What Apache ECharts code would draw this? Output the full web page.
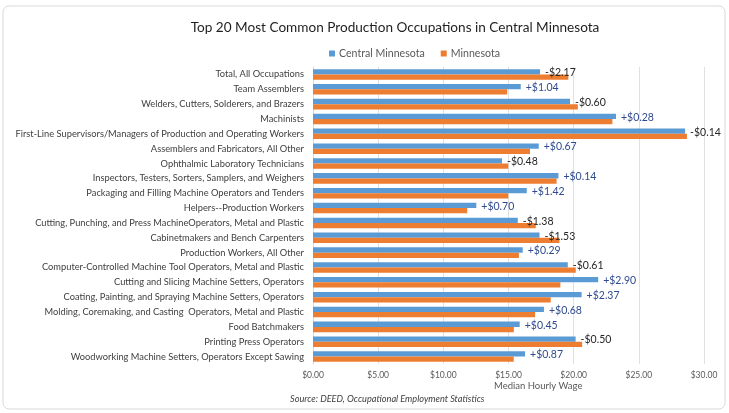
<!DOCTYPE html>
<html><head><meta charset="utf-8">
<script src="https://cdn.jsdelivr.net/npm/echarts@6/dist/echarts.min.js"></script>
<style>html,body{margin:0;padding:0;background:#fff}#c{width:729px;height:413px}</style>
</head><body><div id="c"></div>
<script>
const categories = [
"Total, All Occupations",
"Team Assemblers",
"Welders, Cutters, Solderers, and Brazers",
"Machinists",
"First-Line Supervisors/Managers of Production and Operating Workers",
"Assemblers and Fabricators, All Other",
"Ophthalmic Laboratory Technicians",
"Inspectors, Testers, Sorters, Samplers, and Weighers",
"Packaging and Filling Machine Operators and Tenders",
"Helpers--Production Workers",
"Cutting, Punching, and Press MachineOperators, Metal and Plastic",
"Cabinetmakers and Bench Carpenters",
"Production Workers, All Other",
"Computer-Controlled Machine Tool Operators, Metal and Plastic",
"Cutting and Slicing Machine Setters, Operators",
"Coating, Painting, and Spraying Machine Setters, Operators",
"Molding, Coremaking, and Casting  Operators, Metal and Plastic",
"Food Batchmakers",
"Printing Press Operators",
"Woodworking Machine Setters, Operators Except Sawing"
];
const centralMN = [17.42,15.94,19.72,23.25,28.55,17.32,14.50,18.83,16.40,12.53,15.71,17.38,16.09,19.55,21.88,20.61,17.72,15.86,20.15,16.27];
const minnesota = [19.59,14.90,20.32,22.97,28.69,16.65,14.98,18.69,14.98,11.83,17.09,18.91,15.80,20.16,18.98,18.24,17.04,15.41,20.65,15.40];
const diffLabels = ["-$2.17","+$1.04","-$0.60","+$0.28","-$0.14","+$0.67","-$0.48","+$0.14","+$1.42","+$0.70","-$1.38","-$1.53","+$0.29","-$0.61","+$2.90","+$2.37","+$0.68","+$0.45","-$0.50","+$0.87"];
const xTicks = [0,5,10,15,20,25,30];

const FONT = 'Lato';
const chart = echarts.init(document.getElementById('c'), null, {renderer:'canvas'});
chart.setOption({
  animation:false,
  textStyle:{fontFamily:FONT},
  title:{text:'Top 20 Most Common Production Occupations in Central Minnesota',left:390,textAlign:'center',top:16,
    textStyle:{fontFamily:FONT,fontSize:13.6,fontWeight:'normal',color:'#1f1f1f'}},
  legend:{top:43,left:324,itemWidth:6,itemHeight:6,itemGap:16,icon:'rect',
    textStyle:{fontFamily:FONT,fontSize:10.6,color:'#595959',padding:[0,0,0,-1]},
    data:['Central Minnesota','Minnesota']},
  graphic:[
    {type:'rect',shape:{x:3,y:6,width:722,height:403,r:6},style:{fill:'none',stroke:'#d9d9d9',lineWidth:1},silent:true},
    {type:'text',left:290,top:395,style:{text:'Source: DEED, Occupational Employment Statistics',font:'italic 9.2px Lato',fill:'#404040'}},
    {type:'text',left:494,top:381,style:{text:'Median Hourly Wage',font:'9.5px Lato',fill:'#595959'}}
  ],
  grid:{left:313,right:25,top:67,bottom:49,containLabel:false},
  xAxis:{type:'value',min:0,max:30,interval:5,
    axisLine:{show:false},axisTick:{show:false},
    axisLabel:{fontFamily:FONT,fontSize:8.5,color:'#595959',margin:7,formatter:v=>'$'+v.toFixed(2)},
    splitLine:{lineStyle:{color:'#e0e0e0',width:1}}},
  yAxis:{type:'category',inverse:true,data:categories,
    axisLine:{show:true,lineStyle:{color:'#d9d9d9'}},axisTick:{show:false},
    axisLabel:{fontFamily:FONT,fontSize:9.3,color:'#404040',margin:9}},
  series:[
    {name:'Central Minnesota',type:'bar',barGap:'0%',barCategoryGap:'29%',
      data:centralMN.map((v,i)=>({value:v,label:{color:diffLabels[i][0]==='+'?'#2F4A8F':'#262626'}})),
      itemStyle:{color:'#5B9BD5'},
      label:{show:true,position:'right',distance:5,offset:[0,1],fontFamily:FONT,fontSize:10.5,
        formatter:p=>diffLabels[p.dataIndex]}
    },
    {name:'Minnesota',type:'bar',data:minnesota,itemStyle:{color:'#ED7D31'}}
  ]
});
</script></body></html>
